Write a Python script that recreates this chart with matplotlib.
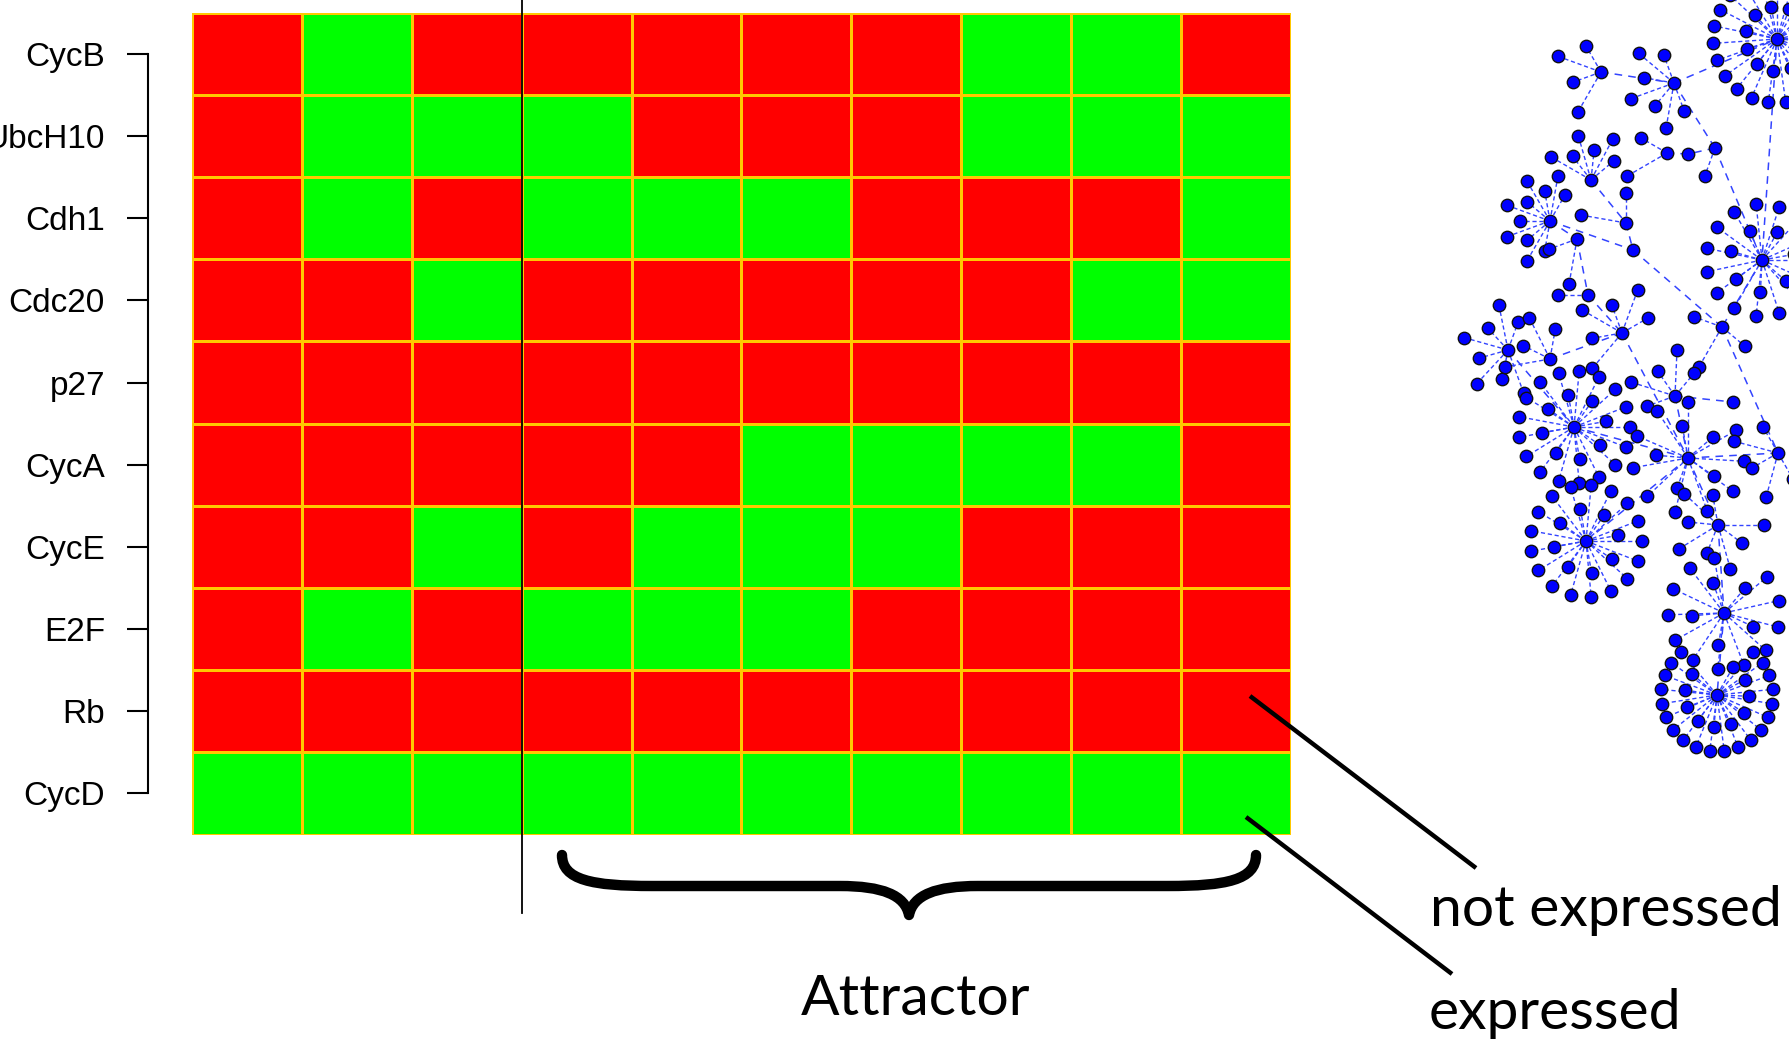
import numpy as np
import matplotlib
matplotlib.use("Agg")
import matplotlib.pyplot as plt
from matplotlib.colors import ListedColormap
from matplotlib.path import Path
from matplotlib.patches import PathPatch

# ---------------- data ----------------
genes = ["CycB", "UbcH10", "Cdh1", "Cdc20", "p27", "CycA", "CycE", "E2F", "Rb", "CycD"]
# 1 = expressed (green), 0 = not expressed (red); columns = time steps
CycB   = [0, 1, 0, 0, 0, 0, 0, 1, 1, 0]
UbcH10 = [0, 1, 1, 1, 0, 0, 0, 1, 1, 1]
Cdh1   = [0, 1, 0, 1, 1, 1, 0, 0, 0, 1]
Cdc20  = [0, 0, 1, 0, 0, 0, 0, 0, 1, 1]
p27    = [0, 0, 0, 0, 0, 0, 0, 0, 0, 0]
CycA   = [0, 0, 0, 0, 0, 1, 1, 1, 1, 0]
CycE   = [0, 0, 1, 0, 1, 1, 1, 0, 0, 0]
E2F    = [0, 1, 0, 1, 1, 1, 0, 0, 0, 0]
Rb     = [0, 0, 0, 0, 0, 0, 0, 0, 0, 0]
CycD   = [1, 1, 1, 1, 1, 1, 1, 1, 1, 1]
states = [CycB, UbcH10, Cdh1, Cdc20, p27, CycA, CycE, E2F, Rb, CycD]
attractor_start = 3  # column where the attractor begins

# network (state transition graph) hubs, in figure pixel units
hub_x      = [1777, 1674, 1601, 1715, 1688, 1667, 1591, 1550, 1626, 1633, 1577, 1762, 1622, 1508, 1550, 1722, 1675, 1733, 1574, 1688, 1778, 1586, 1718, 1724, 1717, 1588]
hub_y      = [  39,   83,   72,  148,  154,  153,  180,  221,  223,  250,  239,  260,  333,  350,  359,  327,  396,  402,  427,  458,  453,  541,  525,  613,  695,  295]
hub_leaves = [  34,    7,    4,    1,    0,    2,    6,   11,    2,    0,    2,   22,    6,    8,    4,    3,    5,    0,   25,   15,    5,   25,    8,   17,   30,    1]
hub_arc0   = [  90,  110,  120,  250,    0,  150,   40,   60,   90,    0,  200,    0,   30,   70,   80,  160,   50,    0,    0,   90,  120,    0,  100,  100,  130,  180]
hub_span   = [ 360,  180,  120,   60,    0,   60,  110,  200,   80,    0,   60,  360,  200,  220,  110,  160,  150,    0,  360,  300,  180,  360,  260,  300,  280,   40]
hub_links  = [(2, 1), (1, 0), (1, 3), (3, 4), (4, 5), (3, 11), (6, 8), (7, 9), (7, 10),
              (10, 25), (25, 12), (9, 15), (8, 9), (13, 18), (14, 12), (12, 19),
              (16, 19), (18, 19), (19, 20), (19, 21), (19, 22), (22, 23), (23, 24),
              (11, 15), (15, 20), (16, 17), (0, 11)]

# ---------------- figure ----------------
W, H = 1790, 1041
fig = plt.figure(figsize=(W / 100, H / 100), dpi=100)
plt.rcParams['font.family'] = ['Liberation Sans', 'DejaVu Sans']

hx0, hy0, hx1, hy1 = 192, 12.7, 1291, 834.5
ax = fig.add_axes([hx0 / W, 1 - hy1 / H, (hx1 - hx0) / W, (hy1 - hy0) / H])
Z = np.array(states)
cmap = ListedColormap(["#FF0000", "#00FF00"])
ax.pcolormesh(np.arange(Z.shape[1] + 1), np.arange(Z.shape[0] + 1), Z,
              cmap=cmap, vmin=0, vmax=1, edgecolors="#FFC800", linewidth=1.8)
ax.set_xlim(0, Z.shape[1])
ax.set_ylim(Z.shape[0], 0)
ax.set_xticks([])
ax.set_yticks(np.arange(len(genes)) + 0.5)
ax.set_yticklabels(genes)
for s in ["top", "right", "bottom"]:
    ax.spines[s].set_visible(False)
ax.spines["left"].set_position(("outward", 44 * 0.72))
ax.spines["left"].set_bounds(0.5, len(genes) - 0.5)
ax.spines["left"].set_linewidth(1.5)
ax.tick_params(axis="y", length=15, width=1.5, pad=16, labelsize=24)
# separator line at attractor start
ax.plot([attractor_start, attractor_start], [-0.2, (913 - hy0) / ((hy1 - hy0) / 10)],
        color="black", lw=1.3, clip_on=False, zorder=5)

# overlay axes in pixel units
ov = fig.add_axes([0, 0, 1, 1], zorder=10)
ov.set_xlim(0, W)
ov.set_ylim(H, 0)
ov.axis("off")
ov.patch.set_alpha(0)

# network edges between hubs
for a, b in hub_links:
    ov.plot([hub_x[a], hub_x[b]], [hub_y[a], hub_y[b]], color="#3344FF",
            lw=1.1, ls=(0, (5, 4)), zorder=1)

# leaves
leaf_x, leaf_y = [], []
for i in range(len(hub_x)):
    n = hub_leaves[i]
    if n == 0:
        continue
    if n > 14:
        n_in = n // 3
        r_out = 64 if n > 30 else 56
        rings = [(n_in, 32, 10), (n - n_in, r_out, 0)]
    else:
        rings = [(n, None, 0)]
    for cnt, r, off in rings:
        for k in range(cnt):
            if hub_span[i] >= 360:
                ang = np.deg2rad(hub_arc0[i] + off + 360 * k / cnt)
            else:
                ang = np.deg2rad(hub_arc0[i] + off + (hub_span[i] * k / max(cnt - 1, 1)))
            rr = r if r is not None else (30 if k % 2 == 0 else 46)
            lx = hub_x[i] + rr * np.cos(ang)
            ly = hub_y[i] - rr * np.sin(ang)
            ov.plot([hub_x[i], lx], [hub_y[i], ly], color="#3344FF", lw=1.0,
                    ls=(0, (3, 2)), zorder=1)
            leaf_x.append(lx)
            leaf_y.append(ly)

ov.scatter(leaf_x, leaf_y, s=80, c="#0000FF", edgecolors="#111111", linewidths=1.0, zorder=3)
ov.scatter(hub_x, hub_y, s=80, c="#0000FF", edgecolors="#111111", linewidths=1.0, zorder=4)

# annotation lines
ov.plot([1250, 1476], [696, 868], color="black", lw=3.2, solid_capstyle="butt")
ov.plot([1246, 1452], [817, 974], color="black", lw=3.2, solid_capstyle="butt")

# brace
verts = [(562, 855), (562, 880), (592, 886), (652, 886),
         (840, 886),
         (882, 886), (905, 895), (909, 915),
         (913, 895), (936, 886), (978, 886),
         (1168, 886),
         (1226, 886), (1256, 880), (1256, 855)]
codes = [Path.MOVETO, Path.CURVE4, Path.CURVE4, Path.CURVE4,
         Path.LINETO,
         Path.CURVE4, Path.CURVE4, Path.CURVE4,
         Path.CURVE4, Path.CURVE4, Path.CURVE4,
         Path.LINETO,
         Path.CURVE4, Path.CURVE4, Path.CURVE4]
ov.add_patch(PathPatch(Path(verts, codes), fill=False, lw=7.5, ec="black",
                       capstyle="round", joinstyle="round"))

tfam = ["Lato", "DejaVu Sans"]
ov.text(916, 1015, "Attractor", fontsize=41, family=tfam, fontweight="normal",
        ha="center", va="baseline")
ov.text(1430, 926, "not expressed", fontsize=41, family=tfam, fontweight="normal",
        ha="left", va="baseline")
ov.text(1429, 1029, "expressed", fontsize=41, family=tfam, fontweight="normal",
        ha="left", va="baseline")

fig.savefig("out.png", dpi=100)
